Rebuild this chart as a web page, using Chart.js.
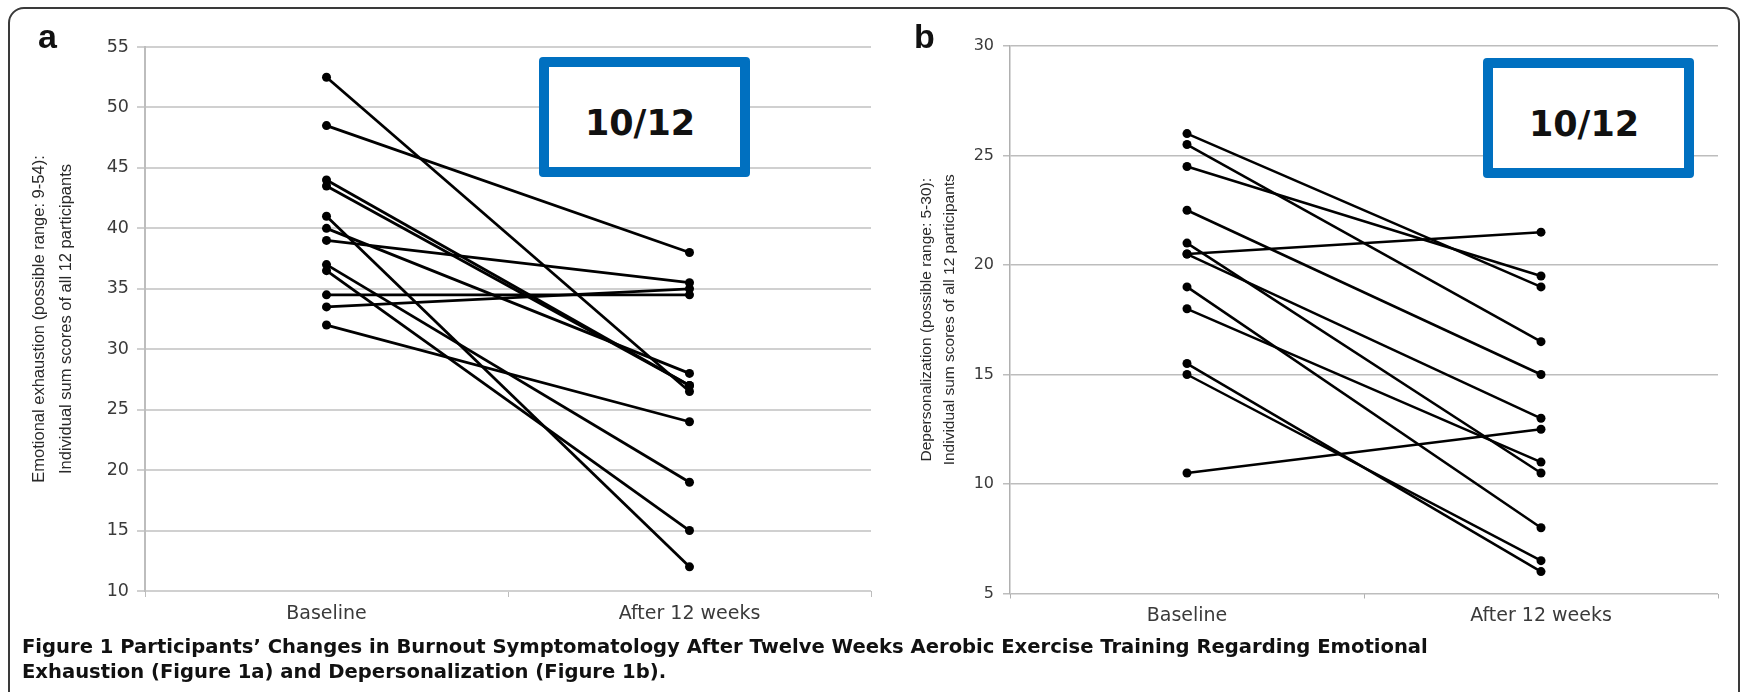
<!DOCTYPE html>
<html>
<head>
<meta charset="utf-8">
<script src="https://cdn.jsdelivr.net/npm/chart.js@4.4.1/dist/chart.umd.min.js"></script>
<style>
  html, body { margin: 0; padding: 0; background: #fff; }
  body { width: 1743px; height: 692px; position: relative; overflow: hidden; }
  .frame {
    position: absolute; left: 8px; top: 7px; width: 1732px; height: 740px;
    border: 2px solid #3a3a3a; border-radius: 16px; box-sizing: border-box;
  }
  canvas { position: absolute; }
  .panel-letter {
    position: absolute; font: bold 34px "Liberation Sans", Arial, sans-serif;
    line-height: 34px; color: #111;
  }
  .score-box {
    position: absolute; box-sizing: border-box; width: 211px; height: 120px;
    border: 10px solid #0070c0; border-radius: 4px; background: #fff;
    display: flex; align-items: center; justify-content: center;
    padding: 11px 9px 0 0;
    font: bold 35px "DejaVu Sans", Verdana, sans-serif; color: #111;
  }
  .caption {
    position: absolute; left: 22px; top: 635px; white-space: nowrap;
    font: bold 17px "DejaVu Sans", Verdana, sans-serif; line-height: 24.5px; color: #111;
  }
</style>
</head>
<body>
<div class="frame"></div>

<canvas id="exhaustion" width="890" height="640" style="left:0;top:0;width:890px;height:640px"></canvas>
<canvas id="depers" width="853" height="640" style="left:890px;top:0;width:853px;height:640px"></canvas>

<div class="panel-letter" style="left:38px;top:19px">a</div>
<div class="panel-letter" style="left:914px;top:19px">b</div>

<div class="score-box" style="left:539px;top:57px">10/12</div>
<div class="score-box" style="left:1483px;top:58px">10/12</div>

<div class="caption" id="caption"><span id="caption-first">Figure 1 Participants’ Changes in Burnout Symptomatology After Twelve Weeks Aerobic Exercise Training Regarding Emotional</span><br>Exhaustion (Figure 1a) and Depersonalization (Figure 1b).</div>

<script>
const timepoints = ['Baseline', 'After 12 weeks'];

// emotional exhaustion, one entry per participant
const exhaustionBaseline = [52.5, 48.5, 44, 43.5, 41, 40, 39, 37, 36.5, 34.5, 33.5, 32];
const exhaustionAfter    = [26.5, 38, 27, 27, 12, 28, 35.5, 19, 15, 34.5, 35, 24];
const exhaustionTicks    = [10, 15, 20, 25, 30, 35, 40, 45, 50, 55];

// depersonalization, one entry per participant
const depersBaseline = [26, 25.5, 24.5, 22.5, 21, 20.5, 20.5, 19, 18, 15.5, 15, 10.5];
const depersAfter    = [19, 16.5, 19.5, 15, 10.5, 21.5, 13, 8, 11, 6, 6.5, 12.5];
const depersTicks    = [5, 10, 15, 20, 25, 30];

function participantLines(baseline, after, lineWidth, radius) {
  return baseline.map((b, i) => ({
    data: [b, after[i]],
    borderColor: '#000',
    backgroundColor: '#000',
    borderWidth: lineWidth,
    pointRadius: radius,
    pointHoverRadius: radius,
    pointBorderWidth: 0,
    tension: 0
  }));
}

function drawPanel(id, baseline, after, ticks, opt) {
  return new Chart(document.getElementById(id), {
    type: 'line',
    data: { labels: timepoints, datasets: participantLines(baseline, after, opt.lineWidth, opt.radius) },
    options: {
      responsive: false,
      animation: false,
      layout: { padding: { top: opt.top, right: opt.right, left: 0, bottom: 0 } },
      plugins: { legend: { display: false }, tooltip: { enabled: false } },
      scales: {
        x: {
          offset: true,
          grid: {
            display: true, offset: true, drawOnChartArea: false, drawTicks: true,
            tickLength: opt.xTick, color: opt.axisColor, lineWidth: 1
          },
          border: { display: false },
          ticks: {
            color: '#3a3a3a', padding: opt.xPad, maxRotation: 0,
            font: { family: 'DejaVu Sans', size: opt.catSize }
          },
          afterFit: s => { s.height = opt.xHeight; }
        },
        y: {
          min: ticks[0],
          max: ticks[ticks.length - 1],
          afterBuildTicks: s => { s.ticks = ticks.map(v => ({ value: v })); },
          grid: { color: opt.gridColor, lineWidth: opt.gridWidth, tickLength: opt.yTick },
          border: { display: true, color: opt.axisColor, width: opt.gridWidth },
          ticks: {
            color: '#3a3a3a', padding: opt.yPad,
            font: { family: 'DejaVu Sans', size: opt.tickSize }
          },
          title: {
            display: true, text: opt.title, color: '#2a2a2a',
            font: { family: 'Liberation Sans', size: opt.titleSize, lineHeight: opt.titleLine },
            padding: { top: opt.titlePad, bottom: 0 }
          },
          afterFit: s => { s.width = opt.yWidth; }
        }
      }
    }
  });
}

drawPanel('exhaustion', exhaustionBaseline, exhaustionAfter, exhaustionTicks, {
  top: 47, right: 19, yWidth: 145, xHeight: 49,
  lineWidth: 2.8, radius: 4.5, gridColor: '#d0d0d0', axisColor: '#bdbdbd', gridWidth: 2,
  xTick: 6, xPad: 6, yTick: 8, yPad: 8, catSize: 19, tickSize: 17.5,
  title: ['Emotional exhaustion (possible range: 9-54):', 'Individual sum scores of all 12 participants'],
  titleSize: 16.5, titleLine: '26.7px', titlePad: 26.6
});

drawPanel('depers', depersBaseline, depersAfter, depersTicks, {
  top: 46, right: 25, yWidth: 120, xHeight: 46.5,
  lineWidth: 2.5, radius: 4.5, gridColor: '#bdbdbd', axisColor: '#b0b0b0', gridWidth: 1.5,
  xTick: 5, xPad: 6, yTick: 7, yPad: 9, catSize: 19, tickSize: 16,
  title: ['Depersonalization (possible range: 5-30):', 'Individual sum scores of all 12 participants'],
  titleSize: 15.5, titleLine: '23.3px', titlePad: 25
});

// stretch the caption so its first line spans the figure width
const caption = document.getElementById('caption');
const firstLine = document.getElementById('caption-first');
caption.style.fontSize = (17 * 1406 / firstLine.getBoundingClientRect().width) + 'px';
</script>
</body>
</html>
